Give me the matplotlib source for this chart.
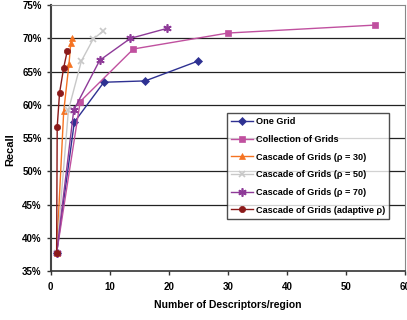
import matplotlib
matplotlib.use("Agg")
import matplotlib.pyplot as plt
from matplotlib.ticker import FuncFormatter

plt.rcParams["font.family"] = ["Liberation Sans", "DejaVu Sans"]
plt.rcParams["font.weight"] = "bold"

# data (x = descriptors/region, y = recall %)
one_grid_x = [1, 4, 9, 16, 25]
one_grid_y = [37.7, 57.4, 63.4, 63.6, 66.6]

collection_x = [1, 5, 14, 30, 55]
collection_y = [37.7, 60.5, 68.4, 70.8, 72.0]

rho30_x = [1, 2.2, 3.1, 3.4, 3.6]
rho30_y = [37.7, 59.0, 66.2, 69.3, 70.0]

rho50_x = [1, 3.0, 5.2, 7.2, 8.9]
rho50_y = [37.7, 59.2, 66.6, 69.9, 71.1]

rho70_x = [1, 3.9, 8.3, 13.5, 19.7]
rho70_y = [37.7, 59.2, 66.7, 70.0, 71.5]

adaptive_x = [1, 1.1, 1.5, 2.2, 2.8]
adaptive_y = [37.7, 56.7, 61.8, 65.6, 68.1]

x_ticks = [0, 10, 20, 30, 40, 50, 60]
y_ticks = [35, 40, 45, 50, 55, 60, 65, 70, 75]

series = [
    (one_grid_x, one_grid_y, "One Grid", "#2E3192", "D", 4),
    (collection_x, collection_y, "Collection of Grids", "#C0509F", "s", 4.5),
    (rho30_x, rho30_y, "Cascade of Grids (\u03c1 = 30)", "#F57322", "^", 5),
    (rho50_x, rho50_y, "Cascade of Grids (\u03c1 = 50)", "#C8C8C8", "x", 5),
    (rho70_x, rho70_y, "Cascade of Grids (\u03c1 = 70)", "#8E3A98", (6, 2, 0), 6),
    (adaptive_x, adaptive_y, "Cascade of Grids (adaptive \u03c1)", "#8B1A1A", "o", 4.5),
]

fig = plt.figure(figsize=(4.07, 3.2), dpi=100)
ax = fig.add_axes([0.1246, 0.153, 0.8704, 0.831])

for y in y_ticks[1:-1]:
    ax.axhline(y, color="#222222", lw=0.9, zorder=0)

for xs, ys, label, color, marker, ms in series:
    ax.plot(xs, ys, color=color, marker=marker, markersize=ms, lw=1,
            markeredgewidth=1.2 if marker in ("x",) or isinstance(marker, tuple) else 0.5,
            label=label)

ax.set_xlim(0, 60)
ax.set_ylim(35, 75)
ax.set_xticks(x_ticks)
ax.set_yticks(y_ticks)
ax.yaxis.set_major_formatter(FuncFormatter(lambda v, p: f"{v:.0f}%"))
ax.tick_params(labelsize=7, length=3, width=1, color="#333333")
ax.tick_params(axis="x", pad=5)

ax.spines["top"].set_color("#888888")
ax.spines["right"].set_color("#888888")
ax.spines["left"].set_color("#444444")
ax.spines["left"].set_linewidth(1.5)
ax.spines["bottom"].set_color("#333333")
ax.spines["bottom"].set_linewidth(1.2)

ax.set_xlabel("Number of Descriptors/region", fontsize=7.5, fontweight="bold", labelpad=6)
ax.set_ylabel("Recall", fontsize=8, fontweight="bold")
ax.yaxis.set_label_coords(-0.1, 0.455)

leg = ax.legend(loc="upper left", bbox_to_anchor=(227 / 407, 1 - 113 / 320),
                bbox_transform=fig.transFigure, fontsize=6.6,
                frameon=True, fancybox=False, borderpad=0.45, labelspacing=0.95,
                handlelength=2.4, handletextpad=0.3, borderaxespad=0)
leg.get_frame().set_edgecolor("#222222")
leg.get_frame().set_linewidth(1)
for t in leg.get_texts():
    t.set_fontweight("bold")

fig.savefig("out.png", dpi=100)
